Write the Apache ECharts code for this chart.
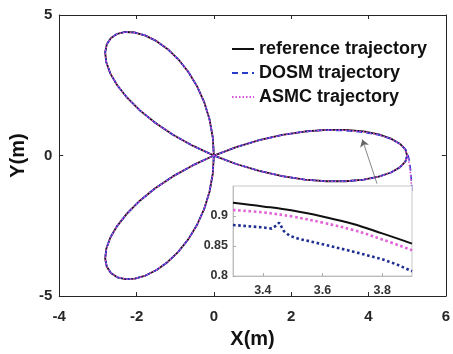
<!DOCTYPE html>
<html>
<head>
<meta charset="utf-8">
<script src="https://cdn.jsdelivr.net/npm/echarts@6/dist/echarts.min.js"></script>
<style>
  html, body { margin: 0; padding: 0; background: #fff; }
  #main { width: 453px; height: 354px; }
</style>
</head>
<body>
<div id="main"></div>
<script>
// trajectory pieces (x, y in metres), in the order they are travelled
const refRightUpper = [
  [5, 0], [4.952, 0.216], [4.811, 0.421], [4.58, 0.603], [4.264, 0.752], [3.873, 0.859], [3.415, 0.915],
  [2.903, 0.915], [2.349, 0.855], [1.768, 0.732], [1.173, 0.547], [0.579, 0.301], [0, 0]
];
const dosmRightUpper = [
  [5.12, -1.25], [5.11, -0.9], [5.09, -0.55], [5.06, -0.2], [5.02, 0.02],
  [4.96, 0.21], [4.82, 0.405], [4.6, 0.585], [4.27, 0.735], [3.87, 0.83], [3.42, 0.884],
  [2.9, 0.91], [2.349, 0.855], [1.768, 0.732], [1.173, 0.547], [0.579, 0.301], [0, 0]
];
const asmcRightUpper = [
  [5.12, -1.25], [5.1, -0.85], [5.07, -0.45], [5.03, -0.12], [5.0, 0.01],
  [4.95, 0.212], [4.81, 0.415], [4.58, 0.595], [4.264, 0.742], [3.873, 0.848], [3.415, 0.904],
  [2.903, 0.91], [2.349, 0.852], [1.768, 0.732], [1.173, 0.547], [0.579, 0.301], [0, 0]
];
const lowerLeft = [
  [-0.55, -0.351], [-1.06, -0.742], [-1.518, -1.165], [-1.915, -1.607], [-2.244, -2.057], [-2.5, -2.5],
  [-2.68, -2.925], [-2.783, -3.317], [-2.812, -3.665], [-2.77, -3.956], [-2.663, -4.18], [-2.5, -4.33],
  [-2.289, -4.396], [-2.041, -4.377], [-1.768, -4.268], [-1.481, -4.069], [-1.193, -3.784], [-0.915, -3.415],
  [-0.659, -2.972], [-0.434, -2.462], [-0.25, -1.897], [-0.113, -1.289], [-0.029, -0.652], [0, 0]
];
const upperLeft = [
  [-0.029, 0.652], [-0.113, 1.289], [-0.25, 1.897], [-0.434, 2.462], [-0.659, 2.972], [-0.915, 3.415],
  [-1.193, 3.784], [-1.481, 4.069], [-1.768, 4.268], [-2.041, 4.377], [-2.289, 4.396], [-2.5, 4.33],
  [-2.663, 4.18], [-2.77, 3.956], [-2.812, 3.665], [-2.783, 3.317], [-2.68, 2.925], [-2.5, 2.5],
  [-2.244, 2.057], [-1.915, 1.607], [-1.518, 1.165], [-1.06, 0.742], [-0.55, 0.351], [0, 0]
];
const rightLower = [
  [0.579, -0.301], [1.173, -0.547], [1.768, -0.732], [2.349, -0.855], [2.903, -0.915], [3.415, -0.915],
  [3.873, -0.859], [4.264, -0.752], [4.58, -0.603], [4.811, -0.421], [4.952, -0.216], [5, 0]
];

// zoomed inset (x 3.3 .. 3.9)
const insetRef = [[3.3, 0.922], [3.4, 0.916], [3.5, 0.909], [3.6, 0.899], [3.7, 0.887], [3.8, 0.871], [3.9, 0.854]];
const insetAsmc = [[3.3, 0.91], [3.4, 0.906], [3.5, 0.899], [3.6, 0.889], [3.7, 0.877], [3.8, 0.861], [3.9, 0.843]];
const insetDosm = [
  [3.3, 0.885], [3.35, 0.883], [3.4, 0.881], [3.43, 0.879], [3.445, 0.884], [3.455, 0.889],
  [3.47, 0.875], [3.49, 0.867], [3.52, 0.862], [3.6, 0.853], [3.7, 0.841], [3.8, 0.828], [3.85, 0.819], [3.9, 0.808]
];

const xTicks = [-4, -2, 0, 2, 4, 6];
const yTicks = [-5, 0, 5];
const insetXTicks = [3.4, 3.6, 3.8];
const insetYTicks = [0.8, 0.85, 0.9];

// arrow from the inset to the zoomed region
const arrowFrom = [4.22, -1.0];
const arrowTo = [3.84, 0.57];

const names = ['reference trajectory', 'DOSM trajectory', 'ASMC trajectory'];

const refPath = refRightUpper.concat(lowerLeft, upperLeft, rightLower);
const dosmPath = dosmRightUpper.concat(lowerLeft, upperLeft, rightLower);
const asmcPath = asmcRightUpper.concat(lowerLeft, upperLeft, rightLower);

const font = 'Liberation Sans, Arial, sans-serif';
const axisColor = '#262626';
const black = '#111111';
const blue = '#2a3ccc';
const pink = '#d94fd9';

const chart = echarts.init(document.getElementById('main'));

const mainLabel = { color: axisColor, fontFamily: font, fontWeight: 'bold', fontSize: 15 };
const insetLabel = { color: '#333', fontFamily: font, fontWeight: 'bold', fontSize: 12.5 };

chart.setOption({
  animation: false,
  backgroundColor: '#fff',
  legend: {
    data: names,
    orient: 'vertical',
    left: 231,
    top: 40,
    padding: 0,
    itemWidth: 22,
    itemHeight: 10,
    itemGap: 6,
    itemStyle: { color: 'transparent', borderWidth: 0, opacity: 0 },
    textStyle: { color: '#111', fontFamily: font, fontWeight: 'bold', fontSize: 18 }
  },
  grid: [
    { left: 57, top: 15, right: 1, bottom: 57 },
    { left: 233, top: 186, width: 179, height: 90, show: true, backgroundColor: '#fff', borderColor: '#c8c8c8', borderWidth: 1, z: 5 }
  ],
  xAxis: [
    {
      type: 'value', gridIndex: 0, min: -4, max: 6, interval: 2,
      axisLine: { onZero: false, lineStyle: { color: axisColor, width: 1 } },
      axisTick: { inside: true, length: 4, lineStyle: { color: axisColor } },
      axisLabel: { ...mainLabel, margin: 13, customValues: xTicks },
      splitLine: { show: false },
      name: 'X(m)', nameLocation: 'middle', nameGap: 32,
      nameTextStyle: { color: '#111', fontFamily: font, fontWeight: 'bold', fontSize: 20 }
    },
    {
      type: 'value', gridIndex: 0, min: -4, max: 6, interval: 2, position: 'top',
      axisLine: { onZero: false, lineStyle: { color: axisColor, width: 1 } },
      axisTick: { inside: true, length: 4, lineStyle: { color: axisColor } },
      axisLabel: { show: false },
      splitLine: { show: false }
    },
    {
      type: 'value', gridIndex: 1, min: 3.3, max: 3.9,
      axisLine: { onZero: false, lineStyle: { color: '#bdbdbd', width: 1 } },
      axisTick: { inside: true, length: 3, lineStyle: { color: '#aaa' }, customValues: insetXTicks },
      axisLabel: { ...insetLabel, margin: 8, customValues: insetXTicks },
      splitLine: { show: false },
      z: 6
    }
  ],
  yAxis: [
    {
      type: 'value', gridIndex: 0, min: -5, max: 5, interval: 5,
      axisLine: { show: true, onZero: false, lineStyle: { color: axisColor, width: 1 } },
      axisTick: { show: true, inside: true, length: 4, lineStyle: { color: axisColor } },
      axisLabel: { ...mainLabel, margin: 7, customValues: yTicks },
      splitLine: { show: false },
      name: 'Y(m)', nameLocation: 'middle', nameGap: 19, nameRotate: 90,
      nameTextStyle: { color: '#111', fontFamily: font, fontWeight: 'bold', fontSize: 20 }
    },
    {
      type: 'value', gridIndex: 0, min: -5, max: 5, interval: 5, position: 'right',
      axisLine: { show: true, onZero: false, lineStyle: { color: axisColor, width: 1 } },
      axisTick: { show: true, inside: true, length: 4, lineStyle: { color: axisColor } },
      axisLabel: { show: false },
      splitLine: { show: false }
    },
    {
      type: 'value', gridIndex: 1, min: 0.8, max: 0.95,
      axisLine: { show: true, onZero: false, lineStyle: { color: '#bdbdbd', width: 1 } },
      axisTick: { show: true, inside: true, length: 3, lineStyle: { color: '#aaa' }, customValues: insetYTicks },
      axisLabel: { ...insetLabel, margin: 5, customValues: insetYTicks },
      splitLine: { show: false },
      z: 6
    }
  ],
  series: [
    {
      name: names[0], type: 'line', xAxisIndex: 0, yAxisIndex: 0,
      data: refPath, symbol: 'none',
      lineStyle: { color: black, width: 1.8 },
      itemStyle: { color: black },
      markLine: {
        silent: true,
        symbol: ['none', 'arrow'],
        symbolSize: 7,
        label: { show: false },
        lineStyle: { color: '#666', width: 0.8, type: 'solid' },
        data: [[{ coord: arrowFrom }, { coord: arrowTo }]]
      }
    },
    {
      name: names[1], type: 'line', xAxisIndex: 0, yAxisIndex: 0,
      data: dosmPath, symbol: 'none',
      lineStyle: { color: blue, width: 1.6, type: [6, 4] },
      itemStyle: { color: blue }
    },
    {
      name: names[2], type: 'line', xAxisIndex: 0, yAxisIndex: 0,
      data: asmcPath, symbol: 'none',
      lineStyle: { color: pink, width: 1.6, type: [1.5, 2] },
      itemStyle: { color: pink }
    },
    {
      name: 'inset reference', type: 'line', xAxisIndex: 2, yAxisIndex: 2,
      data: insetRef, smooth: 0.4, symbol: 'none', z: 7,
      lineStyle: { color: black, width: 2 }
    },
    {
      name: 'inset ASMC', type: 'line', xAxisIndex: 2, yAxisIndex: 2,
      data: insetAsmc, smooth: 0.4, symbol: 'none', z: 7,
      lineStyle: { color: '#e064d8', width: 2.6, type: [2.6, 2.6] }
    },
    {
      name: 'inset DOSM', type: 'line', xAxisIndex: 2, yAxisIndex: 2,
      data: insetDosm, symbol: 'none', z: 7,
      lineStyle: { color: '#1f2f8f', width: 2.6, type: [2.6, 2.6] }
    }
  ]
});

window.addEventListener('resize', () => chart.resize());
</script>
</body>
</html>
